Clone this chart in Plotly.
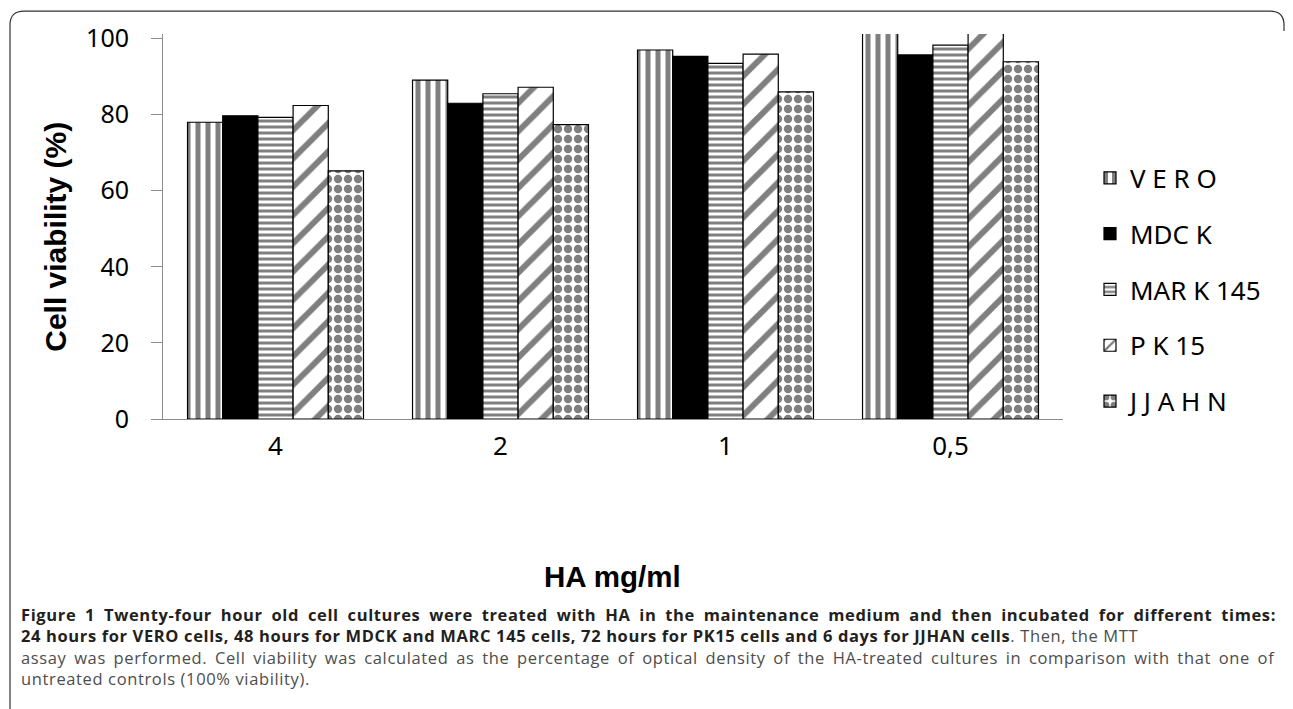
import plotly.graph_objects as go

categories = ["4", "2", "1", "0,5"]
series_names = ["V E R O", "MDC K", "MAR K 145", "P K 15", "J J A H N"]
vero = [78.0, 89.1, 97.0, 102.5]
mdck = [79.7, 83.0, 95.3, 95.7]
mark145 = [79.3, 85.5, 93.5, 98.3]
pk15 = [82.4, 87.2, 95.9, 103.0]
jjahn = [65.2, 77.4, 86.0, 93.9]
y_ticks = [0, 20, 40, 60, 80, 100]

series_values = [vero, mdck, mark145, pk15, jjahn]
patterns = [
    dict(shape="|", size=10, solidity=0.5, fgcolor="black", bgcolor="white"),
    dict(shape="", fgcolor="black"),
    dict(shape="-", size=6, solidity=0.5, fgcolor="black", bgcolor="white"),
    dict(shape="/", size=20, solidity=0.3, fgcolor="black", bgcolor="white"),
    dict(shape=".", size=10, solidity=0.55, fgcolor="black", bgcolor="white"),
]
fills = ["white", "black", "white", "white", "white"]

fig = go.Figure()
for i, (name, vals) in enumerate(zip(series_names, series_values)):
    fig.add_trace(go.Bar(
        x=categories, y=vals, name=name, legendgroup=name,
        marker=dict(color=fills[i], pattern=patterns[i],
                    line=dict(color="black", width=1.2)),
        cliponaxis=True,
    ))

# page body has an 8px margin; work in reference-image pixel coordinates
OFF = 8
FW, FH = 1293 - OFF, 709 - OFF
L, R, T, B = 163 - OFF, 1063 - OFF, 32 - OFF, 419.3 - OFF
W, H = R - L, B - T
def px(x):
    return (x - OFF - L) / W
def py(y):
    return (B - (y - OFF)) / H

fig.update_layout(
    width=FW, height=FH,
    margin=dict(l=L, r=FW - R, t=T, b=FH - B),
    paper_bgcolor="white", plot_bgcolor="white",
    barmode="group", bargap=0.218, bargroupgap=0,
    showlegend=True,
    legend=dict(x=1.03, xanchor="left", y=py(289), yanchor="middle",
                font=dict(family="Noto Sans", size=26, color="black"),
                tracegroupgap=19, bgcolor="rgba(0,0,0,0)"),
    xaxis=dict(showline=True, linecolor="#8c8c8c", linewidth=1, ticks="",
               tickfont=dict(family="Noto Sans", size=26, color="black"),
               ticklabelstandoff=4,
               showgrid=False, zeroline=False),
    yaxis=dict(range=[0, 101.2], tickvals=y_ticks, showline=True, linecolor="#8c8c8c",
               linewidth=1, ticks="outside", ticklen=11, tickcolor="#8c8c8c",
               tickfont=dict(family="Noto Sans", size=25, color="black"),
               ticklabelstandoff=17,
               showgrid=False, zeroline=False),
)

fig.add_annotation(text="<b>Cell viability (%)</b>", textangle=-90,
                   xref="paper", yref="paper", x=px(56), y=py(236),
                   xanchor="center", yanchor="middle", showarrow=False,
                   font=dict(family="Liberation Sans", size=30, color="black"))
fig.add_annotation(text="<b>HA mg/ml</b>",
                   xref="paper", yref="paper", x=px(612), y=py(578),
                   xanchor="center", yanchor="middle", showarrow=False,
                   font=dict(family="Liberation Sans", size=29.5, color="black"))

cap_font = dict(family="Open Sans", size=16.5, color="#231f20")
reg = "#4d4d4d"
caption_lines = [
    "<b>Figure 1 Twenty-four hour old cell cultures were treated with HA in the maintenance medium and then incubated for different times:</b>",
    "<b>24 hours for VERO cells, 48 hours for MDCK and MARC 145 cells, 72 hours for PK15 cells and 6 days for JJHAN cells</b>"
    f"<span style='color:{reg}'>. Then, the MTT</span>",
    f"<span style='color:{reg}'>assay was performed. Cell viability was calculated as the percentage of optical density of the HA-treated cultures in comparison with that one of</span>",
    f"<span style='color:{reg}'>untreated controls (100% viability).</span>",
]
word_gap = [3.9, 0, 2.8, 0]
cap_y = [616, 637.5, 659, 680.5]
for t, yy, wg in zip(caption_lines, cap_y, word_gap):
    styled = f"<span style='letter-spacing:0.63px;word-spacing:{wg}px'>{t}</span>"
    fig.add_annotation(text=styled, xref="paper", yref="paper", x=px(19), y=py(yy),
                       xanchor="left", yanchor="middle", showarrow=False,
                       align="left", font=cap_font)

# rounded border frame (reference pixel coordinates)
r = 14
x0, x1, y0, y1 = 10, 1284, 9, 712
path = (f"M {px(x0)},{py(y1)} L {px(x0)},{py(y0 + r)} "
        f"Q {px(x0)},{py(y0)} {px(x0 + r)},{py(y0)} "
        f"L {px(x1 - r)},{py(y0)} Q {px(x1)},{py(y0)} {px(x1)},{py(y0 + r)} "
        f"L {px(x1)},{py(y0 + 20)}")
fig.add_shape(type="path", path=path, xref="paper", yref="paper",
              line=dict(color="#333333", width=1.2))

fig.write_html("out.html")
